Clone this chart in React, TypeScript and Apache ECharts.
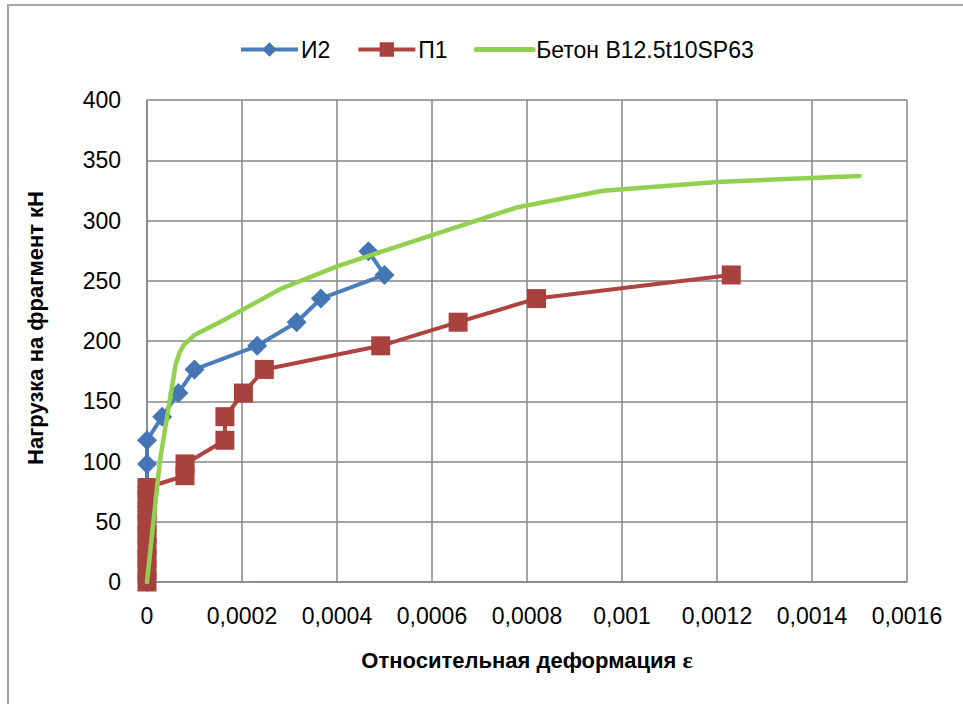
import React, { useEffect, useRef } from "react";
import * as echarts from "echarts";

const i2X = [0, 0, 0, 0, 0, 0, 0, 0.000032, 0.000066, 0.0001, 0.000232, 0.000315, 0.000366, 0.0005, 0.000466];
const i2Y = [0, 19.6, 39.2, 58.8, 78.4, 98, 117.6, 137.2, 156.8, 176.4, 196, 215.6, 235.2, 254.8, 274.4];

const p1X = [0, 0, 0, 0, 0, 0, 0, 0, 0, 0.00008, 0.00008, 0.000164, 0.000164, 0.000203, 0.000247, 0.000492, 0.000655, 0.00082, 0.00123];
const p1Y = [0, 9.8, 19.6, 29.4, 39.2, 49, 58.8, 68.6, 78.4, 88.2, 98, 117.6, 137.2, 156.8, 176.4, 196, 215.6, 235.2, 254.8];

const betonX = [0, 0.000027, 0.00006, 0.000068, 0.000078, 0.0001, 0.00016, 0.00028, 0.0004, 0.00057, 0.00078, 0.00096, 0.0012, 0.0015];
const betonY = [0, 100, 180, 190, 197, 205, 217, 243, 262, 284, 311, 324.7, 332, 337];

const xTicks = { min: 0, max: 0.0016, interval: 0.0002 };
const yTicks = { min: 0, max: 400, interval: 50 };

const seriesNames = ["И2", "П1", "Бетон B12.5t10SP63"];
const yTitle = "Нагрузка на фрагмент кН";
const xTitle = "Относительная деформация {e|ε}";

const zip = (xs: number[], ys: number[]) => xs.map((x, i) => [x, ys[i]]);

export default function App() {
  const ref = useRef<HTMLDivElement>(null);
  useEffect(() => {
    if (!ref.current) return;
    const chart = echarts.init(ref.current, null, { renderer: "svg" });
    const font = "'Liberation Sans', Arial, sans-serif";
    const grid = "#868686";
    const blue = "#4A7EBB";
    const red = "#B0433F";
    const green = "#92D050";
    chart.setOption({
      animation: false,
      backgroundColor: "#ffffff",
      textStyle: { fontFamily: font },
      graphic: [
        {
          type: "rect",
          shape: { x: 8, y: 5, width: 1200, height: 900 },
          style: { fill: "none", stroke: "#a6a6a6", lineWidth: 2 },
          silent: true,
        },
        {
          type: "text",
          x: 35,
          y: 328,
          rotation: Math.PI / 2,
          style: {
            text: yTitle,
            fontSize: 22,
            fontWeight: "bold",
            fill: "#000",
            fontFamily: font,
            align: "center",
            verticalAlign: "middle",
          },
          silent: true,
        },
      ],
      legend: {
        left: 234,
        top: 33,
        itemWidth: 57,
        itemHeight: 18,
        itemGap: 26,
        textStyle: { fontSize: 23, color: "#000", fontFamily: font, padding: [0, 0, 0, -2] },
        data: [
          { name: seriesNames[0], lineStyle: { width: 4, color: blue } },
          { name: seriesNames[1], lineStyle: { width: 4, color: red } },
          { name: seriesNames[2], itemStyle: { opacity: 0 }, lineStyle: { width: 5, color: green } },
        ],
      },
      grid: { left: 147, top: 100, right: 56, bottom: 122 },
      xAxis: {
        type: "value",
        min: xTicks.min,
        max: xTicks.max,
        interval: xTicks.interval,
        name: xTitle,
        nameLocation: "middle",
        nameGap: 66,
        nameTextStyle: {
          fontSize: 22,
          fontWeight: "bold",
          color: "#000",
          fontFamily: font,
          rich: { e: { fontFamily: "'Liberation Serif', serif", fontSize: 24, fontWeight: "bold", color: "#000" } },
        },
        axisLine: { show: true, lineStyle: { color: grid, width: 1.5 } },
        axisTick: { show: false },
        splitLine: { show: true, lineStyle: { color: grid, width: 1.5 } },
        axisLabel: {
          fontSize: 23,
          color: "#000",
          margin: 22,
          fontFamily: font,
          formatter: (v: number) => String(parseFloat(v.toPrecision(6))).replace(".", ","),
        },
      },
      yAxis: {
        type: "value",
        min: yTicks.min,
        max: yTicks.max,
        interval: yTicks.interval,
        axisLine: { show: true, lineStyle: { color: grid, width: 1.5 } },
        axisTick: { show: false },
        splitLine: { show: true, lineStyle: { color: grid, width: 1.5 } },
        axisLabel: { fontSize: 23, color: "#000", margin: 26, fontFamily: font },
      },
      series: [
        {
          name: seriesNames[0],
          type: "line",
          z: 2,
          data: zip(i2X, i2Y),
          symbol: "diamond",
          symbolSize: 20,
          itemStyle: { color: "#4575B4" },
          lineStyle: { color: blue, width: 4 },
        },
        {
          name: seriesNames[1],
          type: "line",
          z: 3,
          data: zip(p1X, p1Y),
          symbol: "rect",
          symbolSize: 19,
          itemStyle: { color: "#A8423F" },
          lineStyle: { color: red, width: 4 },
        },
        {
          name: seriesNames[2],
          type: "line",
          z: 4,
          data: zip(betonX, betonY),
          symbol: "none",
          showSymbol: false,
          itemStyle: { color: green },
          lineStyle: { color: green, width: 4.5, cap: "round", join: "round" },
        },
      ],
    });
    return () => chart.dispose();
  }, []);
  return (
    <div
      ref={ref}
      style={{ position: "fixed", left: 0, top: 0, width: 963, height: 704 }}
    />
  );
}
